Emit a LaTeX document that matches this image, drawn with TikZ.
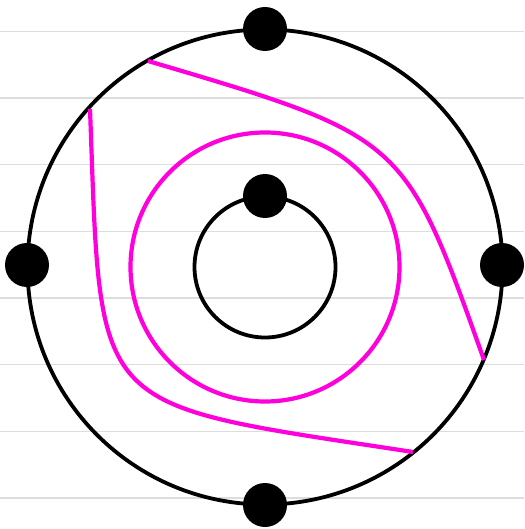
\documentclass[tikz,border=0pt]{standalone}
\usepackage{xcolor}
\definecolor{orbline}{HTML}{DDDDDD}
\definecolor{orbpink}{HTML}{FF00DD}
\usepackage{tikz}
\usetikzlibrary{positioning,calc}
\tikzset{
  orbgrid/.style={orbline,line width=1.3pt},
  orbring/.style={draw=black,line width=3.8pt},
  orbpath/.style={draw=orbpink,line width=4.2pt},
  orbdot/.style={circle,fill=black,inner sep=0pt,minimum size=44pt},
}

\begin{document}
\begin{tikzpicture}[x=1pt,y=-1pt]
\useasboundingbox (0,0) rectangle (524,529);
% faint rules
\foreach \k in {0,...,7}
  \draw[orbgrid] (0,31.3+66.67*\k) -- (524,31.3+66.67*\k);
\coordinate (c) at (265,267);
\draw[orbring] (c) circle[radius=237.5];
\draw[orbring] (c) circle[radius=70.5];
\draw[orbpath] (c) circle[radius=134.5];
% magenta curves
\draw[orbpath] (148,61) .. controls (404.5,136.8) .. (484,360);
\draw[orbpath] (90,109) .. controls (101.5,418) and (87,402) .. (413,452);
% dots
\node[orbdot] (top) at (265,29) {};
\node[orbdot] (left) at (27,265) {};
\node[orbdot] (right) at (502,265) {};
\node[orbdot] (bottom) at (265,505) {};
\node[orbdot] (inner) at (265,196) {};
\end{tikzpicture}
\end{document}
